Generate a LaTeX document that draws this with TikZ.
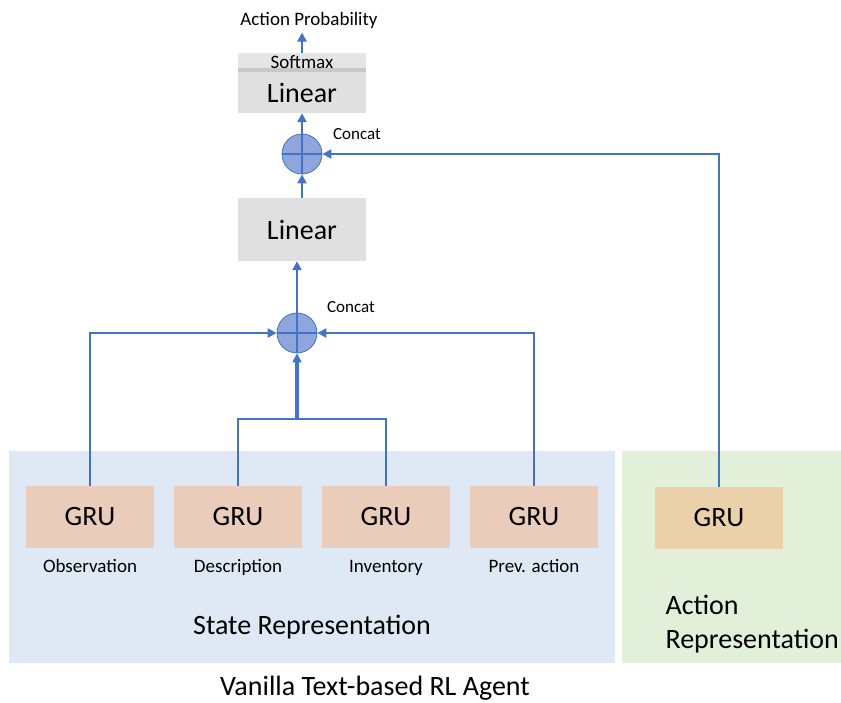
\documentclass[tikz,border=0pt]{standalone}
\usepackage{fontspec}
\setmainfont{Carlito}
\usetikzlibrary{arrows.meta,positioning,calc}

\definecolor{statebg}{RGB}{222,233,245}
\definecolor{actionbg}{RGB}{226,239,217}
\definecolor{grufill}{RGB}{233,204,186}
\definecolor{gruact}{RGB}{234,209,170}
\definecolor{layerfill}{RGB}{224,224,224}
\definecolor{softfill}{RGB}{229,229,229}
\definecolor{softline}{RGB}{200,200,200}
\definecolor{linkblue}{RGB}{68,114,196}
\definecolor{catfill}{RGB}{142,166,220}

\tikzset{
  gru/.style={fill=grufill, minimum width=128pt, minimum height=62pt, font=\fontsize{28}{32}\selectfont},
  layer/.style={fill=layerfill, minimum width=128pt, minimum height=63pt, font=\fontsize{28}{32}\selectfont},
  concat/.style={circle, fill=catfill, draw=linkblue, line width=0.8pt, minimum size=40pt, inner sep=0pt},
  inname/.style={font=\fontsize{19}{22}\selectfont, text height=14pt, text depth=4pt},
  note/.style={font=\fontsize{17}{20}\selectfont},
  big/.style={font=\fontsize{28}{34}\selectfont},
  wire/.style={draw=linkblue, line width=2.6pt},
  link/.style={wire, -{Triangle[length=9pt,width=9pt]}},
}

\begin{document}
\begin{tikzpicture}[x=1pt, y=-1pt, node distance=7pt]
	\useasboundingbox (0,0) rectangle (841,702);
	
	% panels
	\fill[statebg] (9,451) rectangle (615,663);
	\fill[actionbg] (622,451) rectangle (841,663);
	
	% encoders
	\node[gru] (obs) at (90,517) {GRU};
	\node[gru] (desc) at (238,517) {GRU};
	\node[gru] (inv) at (386,517) {GRU};
	\node[gru] (prev) at (534,517) {GRU};
	\node[gru, fill=gruact] (act) at (719,518) {GRU};
	
	\node[inname, below=of obs] (obsname) {Observation};
	\node[inname, below=of desc] (descname) {Description};
	\node[inname, below=of inv] (invname) {Inventory};
	\node[inname, below=of prev] (prevname) {Prev. action};
	
	\node[big] (statename) at (312,627) {State Representation};
	\node[big, align=left, anchor=west] (actname) at (662,624) {Action\\Representation};
	\node[big] (title) at (375,688) {Vanilla Text-based RL Agent};
	
	% fusion and output
	\node[concat] (cat1) at (297,333) {};
	\node[layer] (lin1) at (302,229.5) {Linear};
	\node[concat] (cat2) at (302,154) {};
	\node[layer, minimum height=60pt] (lin2) at (302,83) {};
	\fill[softfill] (lin2.north west) rectangle (366,68);
	\fill[softline] (238,68) rectangle (366,72);
	\node[inname] (soft) at (302,63) {Softmax};
	\node[big] (lin2name) at (302,93) {Linear};
	
	\node[inname] (outname) at (309,20) {Action Probability};
	\node[note] (catname1) at (351,307) {Concat};
	\node[note] (catname2) at (357,134) {Concat};
	
	% connectors
	\coordinate (join) at (297,419);
	\draw[link] (obs.north) |- (cat1.west);
	\draw[link] (prev.north) |- (cat1.east);
	\draw[wire] (desc.north) |- (join) -| (inv.north);
	\draw[link, line width=3.4pt] (join) -- (cat1.south);
	\draw[wire] (cat1.west) -- (cat1.east) (cat1.north) -- (cat1.south);
	\draw[link] (cat1.north) -- (cat1.north |- lin1.south);
	
	\draw[link] (lin1.north -| cat2) -- (cat2.south);
	\draw[link] (act.north) |- (cat2.east);
	\draw[wire] (cat2.west) -- (cat2.east) (cat2.north) -- (cat2.south);
	\draw[link] (cat2.north) -- (lin2.south);
	\draw[link] (lin2.north) -- (lin2.north |- outname.south);
\end{tikzpicture}
\end{document}
